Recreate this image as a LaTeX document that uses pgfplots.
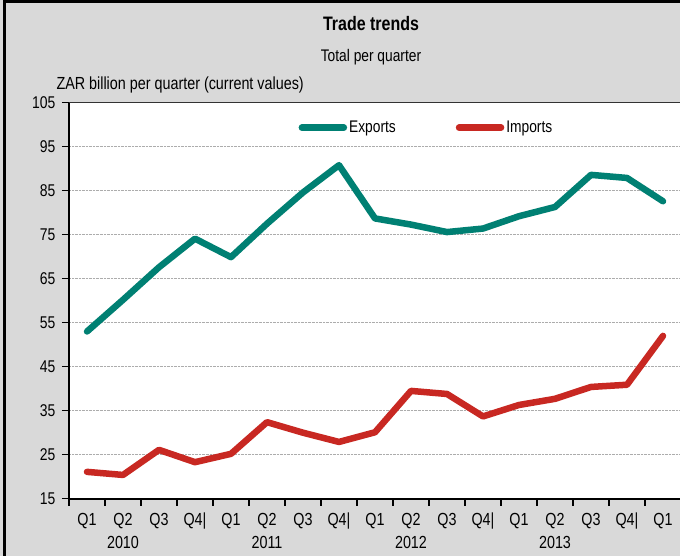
\documentclass[border=0pt]{standalone}
\usepackage{fontspec}
\setmainfont{Liberation Sans}[FakeStretch=0.82]
\usepackage{pgfplots}
\pgfplotsset{compat=1.18}
\definecolor{bg}{RGB}{217,217,217}
\definecolor{expc}{RGB}{0,128,115}
\definecolor{impc}{RGB}{200,40,34}
\pgfplotstableread{
x exports imports
0  53.0 21.1
1  60.2 20.4
2  67.6 26.1
3  74.1 23.3
4  69.9 25.2
5  77.5 32.4
6  84.6 30.0
7  90.8 27.9
8  78.7 30.1
9  77.3 39.5
10 75.6 38.8
11 76.4 33.7
12 79.2 36.3
13 81.3 37.7
14 88.6 40.4
15 87.9 40.9
16 82.6 52.0
}\trade
\begin{document}
\begin{tikzpicture}
\useasboundingbox (0,0) rectangle (680bp,556bp);
\clip (0,0) rectangle (680bp,556bp);
\fill[bg] (0,0) rectangle (680bp,556bp);
\draw[line width=3bp] (4bp,0) -- (4bp,554.5bp) -- (681bp,554.5bp);
\node[font=\bfseries\fontsize{19.5bp}{21bp}\selectfont] at (371bp,532bp) {Trade trends};
\node[font=\fontsize{16.8bp}{18bp}\selectfont] at (371bp,499bp) {Total per quarter};
\node[font=\fontsize{17.5bp}{18bp}\selectfont, anchor=west] at (53bp,471bp) {ZAR billion per quarter (current values)};
\begin{axis}[
  at={(69bp,57.3bp)}, anchor=south west,
  scale only axis, width=612bp, height=396bp,
  xmin=-0.5, xmax=16.5, ymin=15, ymax=105,
  ytick={15,25,...,105},
  xtick={-0.5,0.5,...,16.5},
  xticklabels={},
  axis background/.style={fill=white},
  axis x line*=bottom, axis y line*=left,
  axis line style={line width=1.6bp, black},
  tick align=outside,
  major tick length=7bp,
  tick style={line width=1.3bp, black},
  ymajorgrids,
  grid style={densely dotted, gray!65, line width=0.9bp},
  /pgf/number format/assume math mode=true,
  yticklabel style={font=\fontsize{17bp}{18bp}\selectfont, xshift=-3bp},
  extra x ticks={0,...,16},
  extra x tick labels={Q1,{Q2\\2010},Q3,Q4|,Q1,{Q2\\2011},Q3,Q4|,Q1,{Q2\\2012},Q3,Q4|,Q1,{Q2\\2013},Q3,Q4|,Q1},
  extra x tick style={major tick length=0pt, grid=none,
    tick label style={align=center, font=\fontsize{17.5bp}{23bp}\selectfont, yshift=-11bp}},
  legend style={at={(rel axis cs:0.37,0.937)}, anchor=west, draw=none, fill=none,
    font=\fontsize{16.8bp}{18bp}\selectfont, legend columns=2,
    /tikz/every even column/.append style={column sep=58bp}},
  legend image code/.code={\draw[#1, line cap=round] (0bp,0bp) -- (42bp,0bp);},
  clip=false,
]
\addplot[expc, line width=6.5bp, line join=round, line cap=round] table[x=x, y=exports] {\trade};
\addlegendentry{Exports}
\addplot[impc, line width=6.5bp, line join=round, line cap=round] table[x=x, y=imports] {\trade};
\addlegendentry{Imports}
\end{axis}
\draw[gray!40!black, line width=1bp] (69bp,453.3bp) -- (681bp,453.3bp);
\end{tikzpicture}
\end{document}
